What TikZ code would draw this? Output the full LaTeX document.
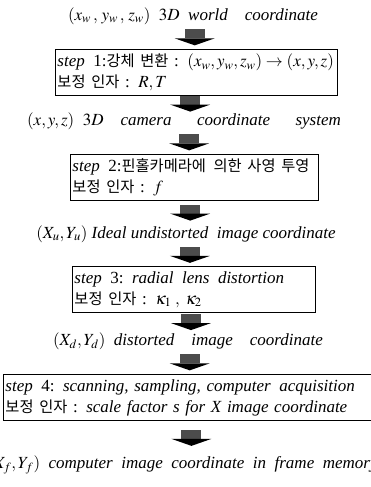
\documentclass[tikz,border=0pt]{standalone}
\usepackage{mathptmx}
\usepackage{fontspec}
\setmainfont{Liberation Serif}
\newfontfamily\kr[Scale=0.9]{Noto Sans CJK KR}
\usetikzlibrary{calc}

\tikzset{
  coordtext/.style={font=\itshape\fontsize{17}{19}\selectfont, inner sep=1pt},
  stepbox/.style={draw, line width=0.9pt, anchor=north west, align=left,
    inner sep=2pt, minimum height=46pt, font=\fontsize{17}{21}\selectfont},
  blockarrow/.pic={
    \fill[black!70] (-10,-8) rectangle (10,1);
    \fill (-20,1) -- (20,1) -- (0,8) -- cycle;
  }
}

\begin{document}
\begin{tikzpicture}[x=1pt,y=-1pt]
    \clip (0,0) rectangle (371,487);
    \fill[white] (0,0) rectangle (371,487);

    \node[coordtext] (t1) at (193,16)
        {$(x_{w}\,,\,y_{w}\,,\,z_{w})$\enspace $3D$\enspace world\quad coordinate};
    \node[stepbox, text width=278pt] (b1) at (55,49)
        {\textit{step}\enspace 1:{\kr 강체 변환} : $(x_{w},y_{w},z_{w})\rightarrow(x,y,z)$\\
         {\kr 보정 인자} : $R,T$};
    \node[coordtext] (t2) at (184,121)
        {$(x,y,z)$\enspace $3D$\quad camera\quad\enspace coordinate\quad\enspace system};
    \node[stepbox, text width=244pt] (b2) at (70,154)
        {\textit{step}\enspace 2:{\kr 핀홀카메라에\enspace 의한 사영 투영}\\
         {\kr 보정 인자} : $f$};
    \node[coordtext] (t3) at (186,234)
        {$(X_{u},Y_{u})$ Ideal undistorted\enspace image coordinate};
    \node[stepbox, text width=239pt] (b3) at (72,266)
        {\textit{step}\enspace 3: \textit{radial\enspace lens\enspace distortion}\\
         {\kr 보정 인자} :\enspace$\kappa_{1}\;,\;\kappa_{2}$};
    \node[coordtext] (t4) at (188,341)
        {$(X_{d},Y_{d})$\enspace distorted\quad image\quad coordinate};
    \node[stepbox, text width=372pt] (b4) at (3,374)
        {\textit{step}\enspace 4: \textit{scanning, sampling, computer\enspace acquisition}\\
         {\kr 보정 인자} : \textit{scale factor s for X image coordinate}};
    \node[coordtext, anchor=west] (t5) at (-14,465)
        {$(X_{f},Y_{f})$\enspace computer\enspace image\enspace coordinate\enspace in\enspace frame\enspace memory};

    % arrows between the stages
    \foreach \a/\b in {t1/b1,b1/t2,t2/b2,b2/t3,t3/b3,b3/t4,t4/b4}
        \pic at ($(\a.south)!0.5!(\b.north)$) {blockarrow};
    \pic at ($(b4.south)!0.5!(b4.south|-t5.north)$) {blockarrow};
\end{tikzpicture}
\end{document}
